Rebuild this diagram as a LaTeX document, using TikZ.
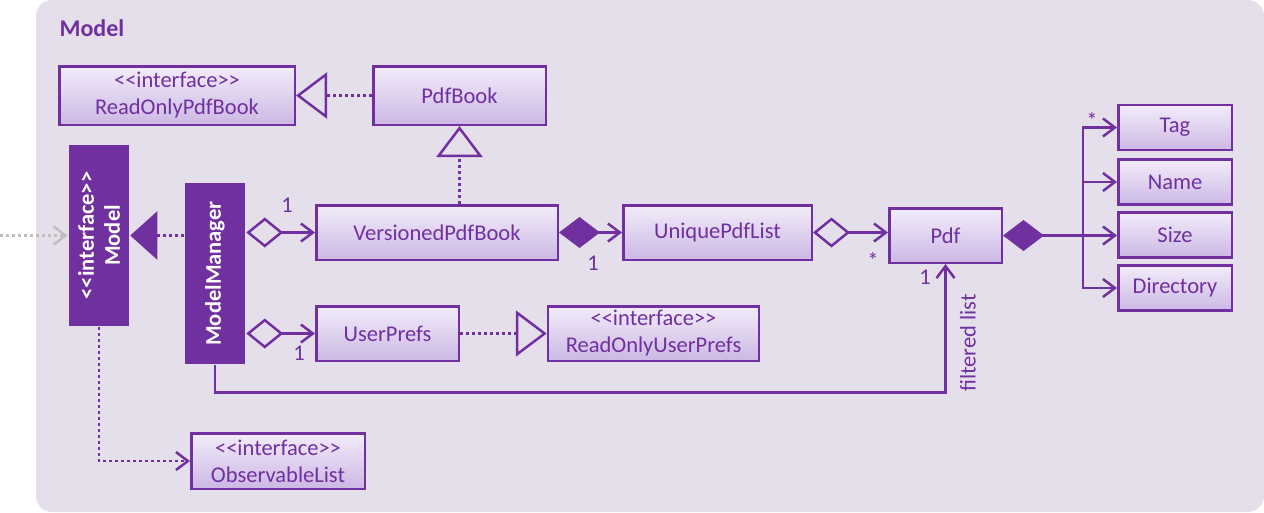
\documentclass[tikz,border=0pt]{standalone}
\usepackage{fontspec}
\setmainfont{Carlito}[Ligatures=TeXOff]
\usetikzlibrary{arrows.meta}
\definecolor{umlpurple}{HTML}{7030A0}
\definecolor{umlbg}{HTML}{E5DFEC}
\definecolor{boxtop}{HTML}{F2ECFA}
\definecolor{boxbot}{HTML}{CCB8E4}
\definecolor{extgray}{HTML}{BFBFBF}

\begin{document}
\begin{tikzpicture}[x=1pt, y=-1pt, >={Straight Barb[length=12pt,width=18pt]}, line width=2.5pt, color=umlpurple, font=\fontsize{22.5}{27}\selectfont]
    \tikzset{cls/.style={draw, top color=boxtop, bottom color=boxbot, inner sep=0pt, align=center},
             dark/.style={fill=umlpurple, minimum width=60pt, minimum height=181pt, inner sep=0pt},
             vtext/.style={rotate=90, text=white, font=\fontsize{22.5}{26}\selectfont\bfseries, align=center},
             dep/.style={dash pattern=on 3pt off 3pt},
             aggr/.style={{Diamond[open,length=37pt,width=30pt]}->},
             comp/.style={{Diamond[length=41pt,width=31pt]}->},
             real/.style={dep, -{Triangle[open,length=31pt,width=46pt]}}}

    \useasboundingbox (0,0) rectangle (1264,512);
    \fill[umlbg, rounded corners=16pt] (36,0) rectangle (1264,512);
    \node[anchor=base west, font=\fontsize{24}{28}\selectfont\bfseries] (title) at (55,36) {Model};

    % classes
    \node[cls, minimum width=235.5pt, minimum height=58.5pt] (ropb) at (177,95.5) {<<interface>>\\ReadOnlyPdfBook};
    \node[cls, minimum width=172.5pt, minimum height=58.5pt] (pb) at (459.5,95.5) {PdfBook};
    \node[cls, minimum width=241.5pt, minimum height=54.5pt] (vpb) at (437,232.5) {VersionedPdfBook};
    \node[cls, minimum width=188.5pt, minimum height=54.5pt] (upl) at (717.5,232.5) {UniquePdfList};
    \node[cls, minimum width=112.5pt, minimum height=54.5pt] (pdf) at (945.5,235.5) {Pdf};
    \node[cls, minimum width=113.5pt, minimum height=45pt] (pdftag) at (1175,127.5) {Tag};
    \node[cls, minimum width=113.5pt, minimum height=45pt] (pdfname) at (1175,182) {Name};
    \node[cls, minimum width=113.5pt, minimum height=45pt] (pdfsize) at (1175,235) {Size};
    \node[cls, minimum width=113.5pt, minimum height=45pt] (pdfdir) at (1175,288) {Directory};
    \node[cls, minimum width=142.5pt, minimum height=54.5pt] (up) at (387.5,333.5) {UserPrefs};
    \node[cls, minimum width=211pt, minimum height=54.5pt] (roup) at (653.5,333.5) {<<interface>>\\ReadOnlyUserPrefs};
    \node[cls, minimum width=173.5pt, minimum height=55.5pt] (ol) at (278,461) {<<interface>>\\ObservableList};

    \node[dark] (model) at (99,235.5) {};
    \node[vtext] (modeltxt) at (model) {<<interface>>\\Model};
    \node[dark] (mm) at (215,273.5) {};
    \node[vtext] (mmtxt) at (mm) {ModelManager};

    % connectors
    \coordinate (outside) at (0,235.5);
    \coordinate (split) at (1083,235.5);
    \draw[extgray, dep, ->] (outside) -- (model.west);
    \draw[dep, -{Triangle[length=27pt,width=48pt]}] (mm.west |- model.east) -- (model.east);
    \draw[real] (pb) -- (ropb);
    \draw[real] (pb.south |- vpb.north) -- (pb.south);
    \draw[aggr] (mm.east |- vpb.west) -- (vpb.west);
    \draw[aggr] (mm.east |- up.west) -- (up.west);
    \draw[comp] (vpb) -- (upl);
    \draw[aggr] (upl.east) -- (upl.east -| pdf.west);
    \draw[comp] (pdf.east) -- (pdf.east -| pdfsize.west);
    \draw[->] (split) |- (pdftag.west);
    \draw[->] (split) |- (pdfname.west);
    \draw[->] (split) |- (pdfdir.west);
    \draw[real] (up) -- (roup);
    \draw[->] (mm.south) -- ++(0,27) -| (pdf.south);
    \draw[dep, ->] (model.south) |- (ol.west);

    % multiplicities
    \node (m1) at (287,205) {1};
    \node (m2) at (593,263) {1};
    \node (m3) at (873,261) {*};
    \node (m4) at (299,353) {1};
    \node (m5) at (1092,121) {*};
    \node (m6) at (925,277) {1};
    \node[rotate=90] (flist) at (968,343) {filtered list};
\end{tikzpicture}
\end{document}
